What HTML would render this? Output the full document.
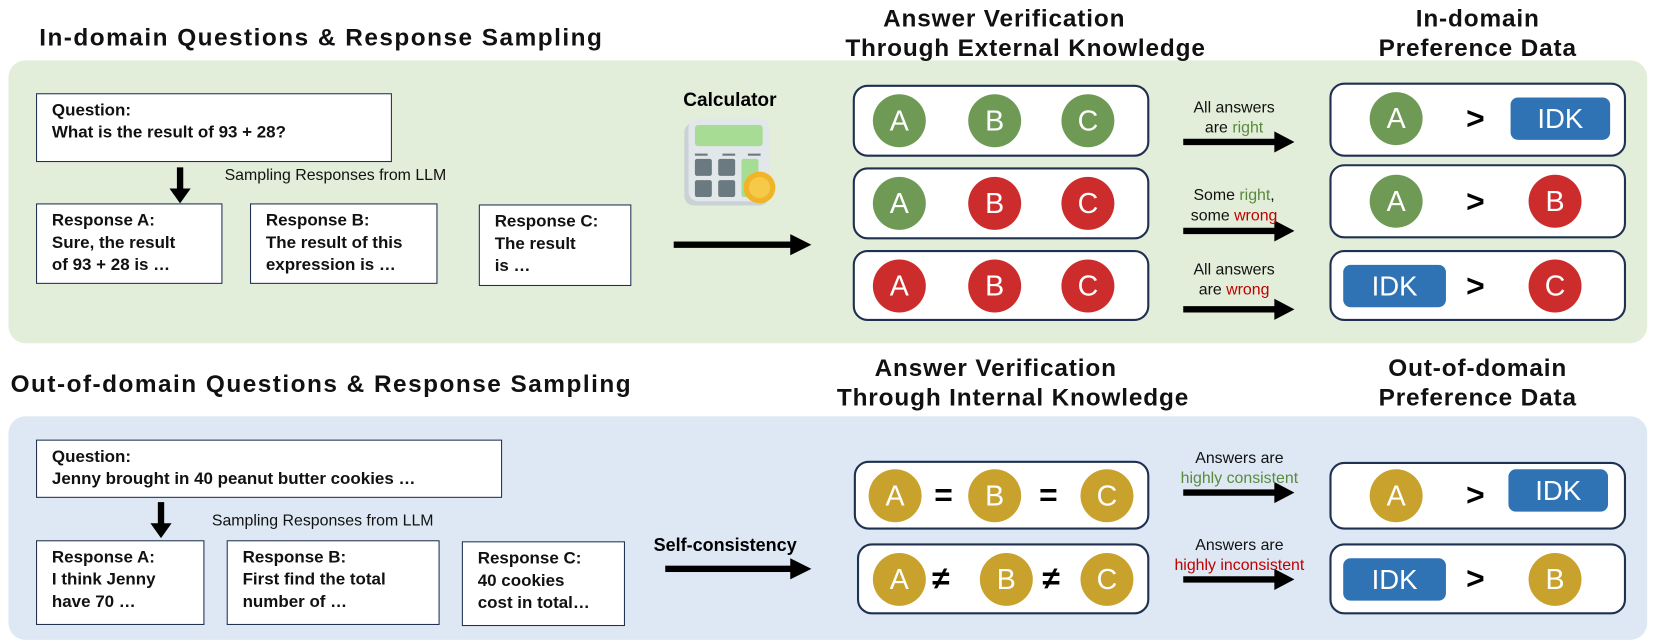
<!DOCTYPE html>
<html><head><meta charset="utf-8"><style>
*{margin:0;padding:0;box-sizing:border-box}
body{width:1661px;height:644px;background:#fff;position:relative;overflow:hidden;font-family:"Liberation Sans",sans-serif}
#w{position:absolute;left:0;top:0;width:1568px;height:608px;transform:scale(1.0593);transform-origin:0 0}
.a{position:absolute}
.panel{position:absolute;border-radius:16px}
.h{position:absolute;font-weight:bold;font-size:23px;color:#111;white-space:nowrap;letter-spacing:1.4px}
.hc{position:absolute;font-weight:bold;font-size:23px;color:#111;text-align:center;line-height:28px;white-space:nowrap;letter-spacing:0.8px}
.box{position:absolute;background:#fff;border:1.5px solid #1f3050;font-weight:bold;font-size:16px;line-height:21px;padding:5px 0 0 14px;color:#111;white-space:nowrap}
.rb{position:absolute;background:#fff;border:2px solid #1f3050;border-radius:14px}
.c{position:absolute;width:50px;height:50px;border-radius:50%;color:#fff;font-size:27px;text-align:center;line-height:50px}
.g{background:#6f9a56}.r{background:#cd2c2c}.y{background:#c9a22d}
.idk{position:absolute;width:94px;height:40px;background:#2f73b5;border-radius:7px;color:#fff;font-size:26px;text-align:center;line-height:40px}
.gt{position:absolute;font-weight:bold;font-size:30px;color:#000;line-height:50px;height:50px}
.lab{position:absolute;font-size:15px;text-align:center;line-height:19px;color:#111;white-space:nowrap}
.sm{position:absolute;font-size:15px;color:#111;white-space:nowrap}
.gr{color:#5a8a3c}.rd{color:#c00000}
</style></head><body><div id="w">
<div class="panel" style="left:8px;top:57px;width:1547px;height:267px;background:#e2eed9"></div>
<div class="panel" style="left:8px;top:393px;width:1547px;height:211px;background:#dde8f4"></div>

<div class="h" style="left:37px;top:22px">In-domain Questions &amp; Response Sampling</div>
<div class="hc" style="left:798px;top:3px;width:300px">Answer Verification<br>Through External Knowledge</div>
<div class="hc" style="left:1245px;top:3px;width:300px">In-domain<br>Preference Data</div>
<div class="h" style="left:10px;top:349px">Out-of-domain Questions &amp; Response Sampling</div>
<div class="hc" style="left:790px;top:333px;width:300px">Answer Verification<br>Through Internal Knowledge</div>
<div class="hc" style="left:1245px;top:333px;width:300px">Out-of-domain<br>Preference Data</div>

<div class="box" style="left:34px;top:88px;width:336px;height:65px">Question:<br>What is the result of 93 + 28?</div>
<svg class="a" style="left:0;top:0" width="1568" height="608">
<g fill="#000">
<rect x="167" y="158" width="6" height="22"/><polygon points="160,178 180,178 170,192"/>
<rect x="636" y="228" width="112" height="6"/><polygon points="746,221 766,231 746,241"/>
<rect x="1117" y="131" width="88" height="6"/><polygon points="1203,124 1222,134 1203,144"/>
<rect x="1117" y="215" width="88" height="6"/><polygon points="1203,208 1222,218 1203,228"/>
<rect x="1117" y="289" width="88" height="6"/><polygon points="1203,282 1222,292 1203,302"/>
<rect x="149" y="474" width="6" height="22"/><polygon points="142,494 162,494 152,508"/>
<rect x="628" y="534" width="120" height="6"/><polygon points="746,527 766,537 746,547"/>
<rect x="1117" y="462" width="88" height="6"/><polygon points="1203,455 1222,465 1203,475"/>
<rect x="1117" y="544" width="88" height="6"/><polygon points="1203,537 1222,547 1203,557"/>
</g>
<rect x="646" y="116" width="80" height="78" rx="9" fill="#c9d3d6"/>
<rect x="650" y="112" width="76" height="78" rx="9" fill="#e2e8ea"/>
<rect x="656" y="118" width="64" height="20" rx="3" fill="#a7dc95"/>
<rect x="656" y="145" width="12" height="2" fill="#6b7a80"/><rect x="682" y="145" width="12" height="2" fill="#6b7a80"/><rect x="706" y="145" width="12" height="2" fill="#6b7a80"/>
<rect x="656" y="150" width="16" height="16" rx="2" fill="#6b7a80"/><rect x="678" y="150" width="16" height="16" rx="2" fill="#6b7a80"/><rect x="700" y="150" width="16" height="36" rx="2" fill="#a7dc95"/>
<rect x="656" y="170" width="16" height="16" rx="2" fill="#6b7a80"/><rect x="678" y="170" width="16" height="16" rx="2" fill="#6b7a80"/>
<circle cx="717" cy="177" r="15" fill="#f0b429"/><circle cx="717" cy="177" r="10" fill="#f7c948"/>
</svg>
<div class="a" style="left:645px;top:84px;font-weight:bold;font-size:18px">Calculator</div>
<div class="sm" style="left:212px;top:157px">Sampling Responses from LLM</div>
<div class="box" style="left:34px;top:192px;width:176px;height:76px">Response A:<br>Sure, the result<br>of 93 + 28 is …</div>
<div class="box" style="left:236px;top:192px;width:177px;height:76px">Response B:<br>The result of this<br>expression is …</div>
<div class="box" style="left:452px;top:193px;width:144px;height:77px">Response C:<br>The result<br>is …</div>

<div class="rb" style="left:805px;top:80px;width:280px;height:68px"></div>
<div class="rb" style="left:805px;top:158px;width:280px;height:68px"></div>
<div class="rb" style="left:805px;top:236px;width:280px;height:67px"></div>
<div class="c g" style="left:824px;top:89px">A</div><div class="c g" style="left:914px;top:89px">B</div><div class="c g" style="left:1002px;top:89px">C</div>
<div class="c g" style="left:824px;top:167px">A</div><div class="c r" style="left:914px;top:167px">B</div><div class="c r" style="left:1002px;top:167px">C</div>
<div class="c r" style="left:824px;top:245px">A</div><div class="c r" style="left:914px;top:245px">B</div><div class="c r" style="left:1002px;top:245px">C</div>

<div class="lab" style="left:1110px;top:92px;width:110px">All answers<br>are <span class="gr">right</span></div>
<div class="lab" style="left:1110px;top:175px;width:110px">Some <span class="gr">right</span>,<br>some <span class="rd">wrong</span></div>
<div class="lab" style="left:1110px;top:245px;width:110px">All answers<br>are <span class="rd">wrong</span></div>

<div class="rb" style="left:1255px;top:78px;width:280px;height:70px"></div>
<div class="rb" style="left:1255px;top:155px;width:280px;height:70px"></div>
<div class="rb" style="left:1255px;top:236px;width:280px;height:67px"></div>
<div class="c g" style="left:1293px;top:87px">A</div><div class="gt" style="left:1384px;top:88px">&gt;</div><div class="idk" style="left:1426px;top:92px">IDK</div>
<div class="c g" style="left:1293px;top:165px">A</div><div class="gt" style="left:1384px;top:166px">&gt;</div><div class="c r" style="left:1443px;top:165px">B</div>
<div class="idk" style="left:1268px;top:250px;width:97px">IDK</div><div class="gt" style="left:1384px;top:246px">&gt;</div><div class="c r" style="left:1443px;top:245px">C</div>

<div class="box" style="left:34px;top:415px;width:440px;height:55px">Question:<br>Jenny brought in 40 peanut butter cookies …</div>
<div class="sm" style="left:200px;top:483px">Sampling Responses from LLM</div>
<div class="box" style="left:34px;top:510px;width:159px;height:80px">Response A:<br>I think Jenny<br>have 70 …</div>
<div class="box" style="left:214px;top:510px;width:201px;height:80px">Response B:<br>First find the total<br>number of …</div>
<div class="box" style="left:436px;top:511px;width:154px;height:80px">Response C:<br>40 cookies<br>cost in total…</div>
<div class="a" style="left:617px;top:505px;font-weight:bold;font-size:17px">Self-consistency</div>

<div class="rb" style="left:806px;top:435px;width:279px;height:65px"></div>
<div class="rb" style="left:809px;top:513px;width:276px;height:67px"></div>
<div class="c y" style="left:820px;top:443px">A</div><div class="gt" style="left:882px;top:443px">=</div><div class="c y" style="left:914px;top:443px">B</div><div class="gt" style="left:981px;top:443px">=</div><div class="c y" style="left:1020px;top:443px">C</div>
<div class="c y" style="left:824px;top:522px">A</div><div class="gt" style="left:880px;top:522px">≠</div><div class="c y" style="left:925px;top:522px">B</div><div class="gt" style="left:984px;top:522px">≠</div><div class="c y" style="left:1020px;top:522px">C</div>

<div class="lab" style="left:1095px;top:423px;width:150px">Answers are<br><span class="gr">highly consistent</span></div>
<div class="lab" style="left:1085px;top:505px;width:170px">Answers are<br><span class="rd">highly inconsistent</span></div>

<div class="rb" style="left:1255px;top:436px;width:280px;height:64px"></div>
<div class="rb" style="left:1255px;top:513px;width:280px;height:67px"></div>
<div class="c y" style="left:1293px;top:443px">A</div><div class="gt" style="left:1384px;top:443px">&gt;</div><div class="idk" style="left:1424px;top:443px">IDK</div>
<div class="idk" style="left:1268px;top:527px;width:97px">IDK</div><div class="gt" style="left:1384px;top:522px">&gt;</div><div class="c y" style="left:1443px;top:522px">B</div>
</div></body></html>
